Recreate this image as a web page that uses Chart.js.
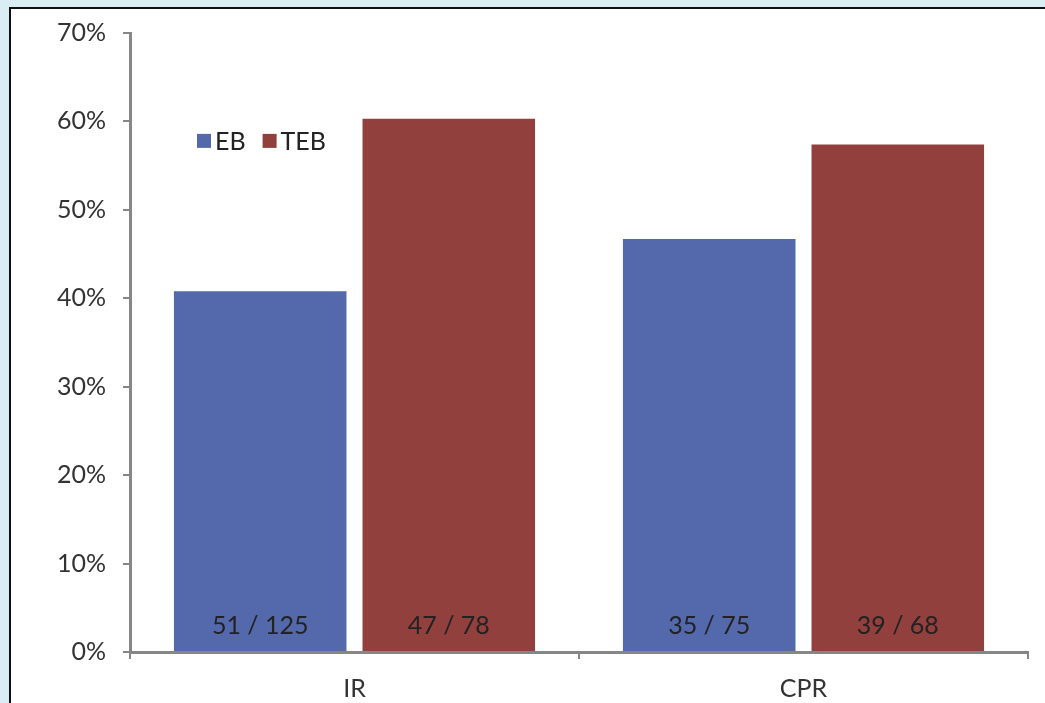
<!DOCTYPE html>
<html>
<head>
<meta charset="utf-8">
<script src="https://cdn.jsdelivr.net/npm/chart.js@4/dist/chart.umd.min.js"></script>
<style>
  html, body { margin: 0; padding: 0; background: #daedf3; overflow: hidden; }
  #frame {
    position: absolute; left: 9px; top: 7px; width: 1036px; height: 696px;
    background: #ffffff; border-left: 2px solid #111; border-top: 2px solid #111;
  }
  #wrap { position: absolute; left: 0; top: 0; width: 1034px; height: 694px; }
</style>
</head>
<body>
<div id="frame"><div id="wrap"><canvas id="c"></canvas></div></div>
<script>
// Response rates by treatment arm
const categories = ['IR', 'CPR'];
const seriesNames = ['EB', 'TEB'];
const ebValues = [40.8, 46.7];
const tebValues = [60.3, 57.4];
const ebCounts = ['51 / 125', '35 / 75'];
const tebCounts = ['47 / 78', '39 / 68'];
const yTicks = [0, 10, 20, 30, 40, 50, 60, 70];

const colors = ['#5469ab', '#92403d'];
const axisGray = '#868686';
const textColor = '#333333';
const fontFamily = 'Lato, "Open Sans", sans-serif';
const fontSize = 25;

// Count labels drawn near the base of each bar
const countLabels = {
  id: 'countLabels',
  afterDatasetsDraw(chart) {
    const ctx = chart.ctx;
    const lists = [ebCounts, tebCounts];
    ctx.save();
    ctx.font = fontSize + 'px ' + fontFamily;
    ctx.fillStyle = '#222222';
    ctx.textAlign = 'center';
    ctx.textBaseline = 'middle';
    chart.data.datasets.forEach((ds, di) => {
      const meta = chart.getDatasetMeta(di);
      meta.data.forEach((bar, i) => {
        ctx.fillText(lists[di][i], bar.x, bar.base - 25);
      });
    });
    ctx.restore();
  }
};

// Legend inside the plot area, top-left
const insideLegend = {
  id: 'insideLegend',
  afterDraw(chart) {
    const ctx = chart.ctx;
    const area = chart.chartArea;
    let x = area.left + 67;
    const y = chart.scales.y.getPixelForValue(57.8);
    ctx.save();
    ctx.font = fontSize + 'px ' + fontFamily;
    ctx.textBaseline = 'middle';
    ctx.textAlign = 'left';
    chart.data.datasets.forEach((ds, i) => {
      ctx.fillStyle = ds.backgroundColor;
      ctx.fillRect(x, y - 7, 14, 14);
      x += 18;
      ctx.fillStyle = '#222222';
      ctx.fillText(ds.label, x, y + 1);
      x += ctx.measureText(ds.label).width + 17;
    });
    ctx.restore();
  }
};

new Chart(document.getElementById('c'), {
  type: 'bar',
  data: {
    labels: categories,
    datasets: [
      { label: seriesNames[0], data: ebValues, backgroundColor: colors[0] },
      { label: seriesNames[1], data: tebValues, backgroundColor: colors[1] }
    ]
  },
  options: {
    responsive: true,
    maintainAspectRatio: false,
    animation: false,
    categoryPercentage: 0.84,
    barPercentage: 0.915,
    layout: { padding: { top: 24, right: 17, left: 0, bottom: 0 } },
    plugins: {
      legend: { display: false },
      tooltip: { enabled: false }
    },
    scales: {
      x: {
        afterFit(scale) { scale.height = 51; scale.paddingLeft = 0; scale.paddingRight = 0; },
        border: { display: true, color: axisGray, width: 3 },
        grid: {
          display: true, offset: true, drawOnChartArea: false,
          drawTicks: true, tickLength: 7, color: axisGray, lineWidth: 2
        },
        ticks: { color: textColor, font: { family: fontFamily, size: fontSize }, padding: 15 }
      },
      y: {
        min: 0, max: 70,
        afterFit(scale) { scale.width = 119; scale.paddingTop = 0; scale.paddingBottom = 0; },
        afterBuildTicks(scale) { scale.ticks = yTicks.map(v => ({ value: v })); },
        border: { display: true, color: axisGray, width: 3 },
        grid: {
          display: true, drawOnChartArea: false, drawTicks: true,
          tickLength: 7, color: axisGray, lineWidth: 2
        },
        ticks: {
          color: textColor, font: { family: fontFamily, size: fontSize }, padding: 17,
          callback: v => v + '%'
        }
      }
    }
  },
  plugins: [countLabels, insideLegend]
});
</script>
</body>
</html>
